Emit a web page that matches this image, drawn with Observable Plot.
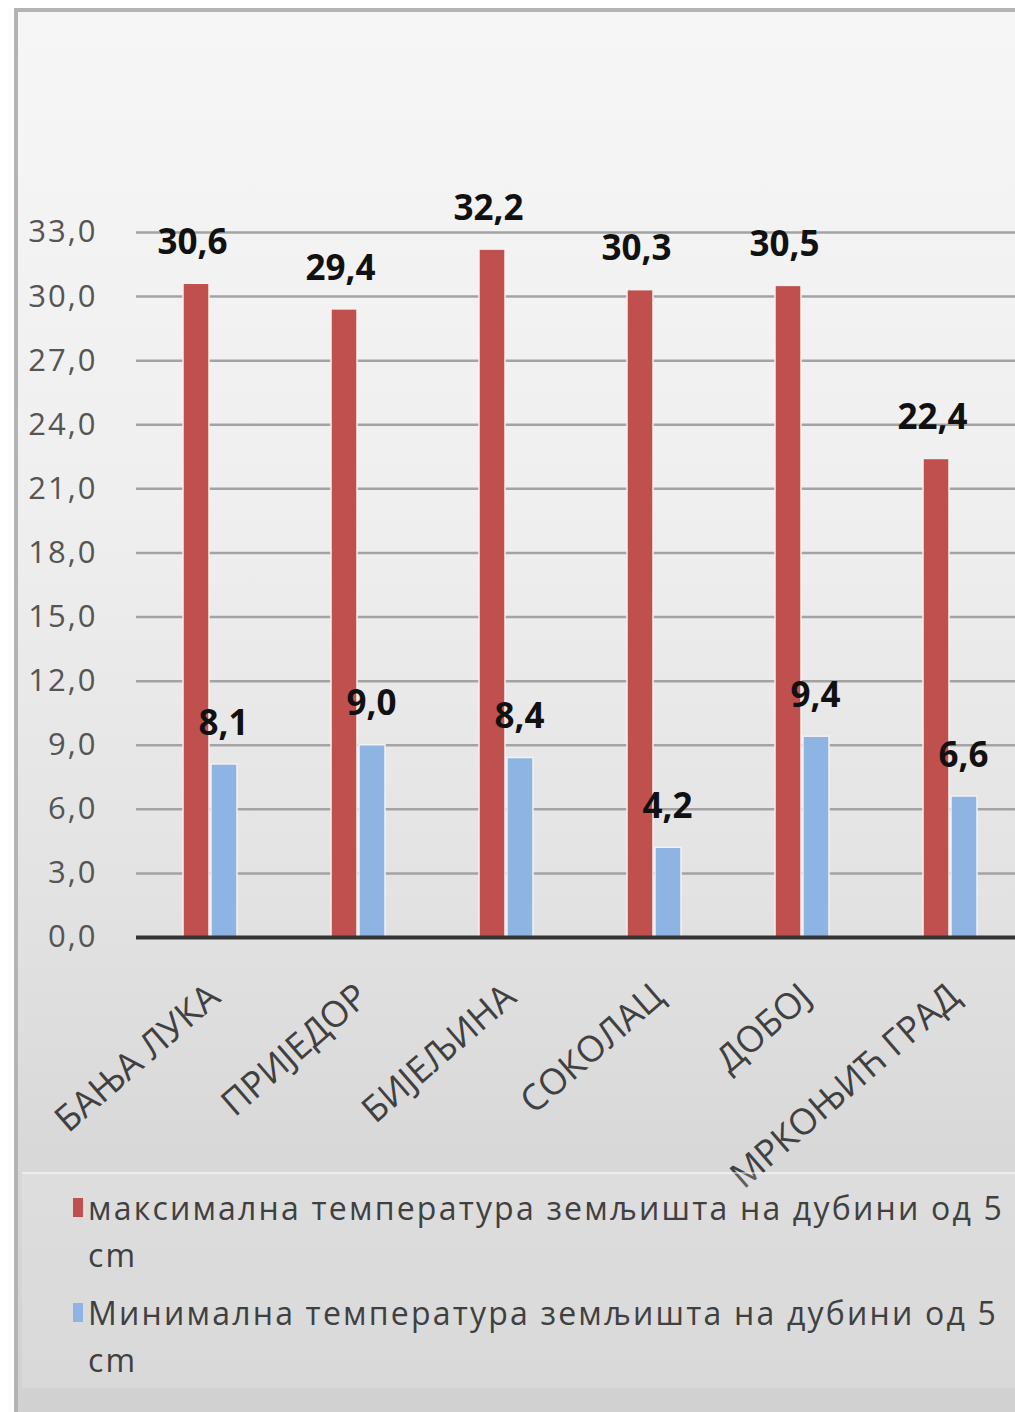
<!DOCTYPE html>
<html>
<head>
<meta charset="utf-8">
<script src="https://cdn.jsdelivr.net/npm/d3@7"></script>
<script src="https://cdn.jsdelivr.net/npm/@observablehq/plot@0.6"></script>
<style>
html, body { margin: 0; padding: 0; background: #ffffff; }
#wrap { position: relative; width: 1015px; height: 1412px; overflow: hidden; font-family: "Open Sans", sans-serif; }
#frame { position: absolute; left: 14px; top: 8px; right: 0; bottom: 0;
  border-top: 4px solid #b3b3b3; border-left: 4px solid #b3b3b3;
  background: linear-gradient(to bottom, #f6f6f6 0%, #efefef 35%, #e3e3e3 62%, #d8d8d8 82%, #d1d1d1 100%); }
#chart { position: absolute; left: 0; top: 0; }
#legend { position: absolute; left: 22px; top: 1172px; width: 993px; height: 216px;
  background: rgba(255,255,255,0.16); border-top: 2px solid rgba(255,255,255,0.45); box-sizing: border-box; }
.lrow { position: absolute; left: 0; width: 993px; }
.lsw { position: absolute; left: 51px; width: 10px; height: 19px; }
.ltx { position: absolute; left: 66px; font-size: 32px; line-height: 47px; color: #404040; white-space: pre; letter-spacing: 2.2px; }
#chart svg [aria-label="y-axis tick label"] text { letter-spacing: 2px; }
</style>
</head>
<body>
<div id="wrap">
  <div id="frame"></div>
  <div id="chart"></div>
  <div id="legend"></div>
</div>
<script>
const cities = ["БАЊА ЛУКА", "ПРИЈЕДОР", "БИЈЕЉИНА", "СОКОЛАЦ", "ДОБОЈ", "МРКОЊИЋ ГРАД"];
const maxTemp = [30.6, 29.4, 32.2, 30.3, 30.5, 22.4];
const minTemp = [8.1, 9.0, 8.4, 4.2, 9.4, 6.6];
const seriesNames = [
  "максимална температура земљишта на дубини од 5 cm",
  "Минимална температура земљишта на дубини од 5 cm"
];
const seriesColors = ["#c0504d", "#8db4e2"];
const yTicks = [0, 3, 6, 9, 12, 15, 18, 21, 24, 27, 30, 33];

const fmt = v => v.toFixed(1).replace(".", ",");

const data = cities.flatMap((c, i) => [
  {city: c, series: seriesNames[0], value: maxTemp[i]},
  {city: c, series: seriesNames[1], value: minTemp[i]}
]);
const maxData = data.filter(d => d.series === seriesNames[0]);
const minData = data.filter(d => d.series === seriesNames[1]);

const labelOpts = {fx: "city", x: "series", y: "value", text: d => fmt(d.value), dy: -41,
  fontSize: 35, fontWeight: "bold", fill: "#111111"};

const chart = Plot.plot({
  width: 1015,
  height: 1172,
  marginLeft: 136,
  marginRight: -9,
  marginTop: 232,
  marginBottom: 235,
  style: {background: "transparent", fontFamily: "'Open Sans', sans-serif", overflow: "visible"},
  fx: {domain: cities, padding: 0, axis: null, label: null},
  x: {domain: seriesNames, paddingInner: 0.07, paddingOuter: 1.59, axis: null},
  y: {domain: [0, 33], label: null},
  color: {domain: seriesNames, range: seriesColors},
  marks: [
    Plot.ruleY(yTicks.filter(t => t > 0), {stroke: "#a3a3a3", strokeWidth: 2.5}),
    Plot.axisY({ticks: yTicks, tickSize: 0, tickPadding: 39, tickFormat: fmt, fontSize: 31, fill: "#555555", label: null}),
    Plot.barY(data, {fx: "city", x: "series", y: "value", fill: "series", stroke: "#f2f2f2", strokeWidth: 1.5}),
    Plot.ruleY([0], {stroke: "#333333", strokeWidth: 4}),
    Plot.text(maxData, {...labelOpts, dx: -4}),
    Plot.text(minData, {...labelOpts, dx: -1}),
    Plot.text(cities, {fx: d => d, text: d => d, frameAnchor: "bottom", rotate: -41,
      textAnchor: "end", lineAnchor: "middle", dx: 4, dy: 54, fontSize: 36, fill: "#404040"})
  ]
});
document.getElementById("chart").appendChild(chart);

const legend = document.getElementById("legend");
const rowTops = [10, 115];
seriesNames.forEach((name, i) => {
  const row = document.createElement("div");
  row.className = "lrow";
  row.style.top = rowTops[i] + "px";
  const sw = document.createElement("div");
  sw.className = "lsw";
  sw.style.top = "14px";
  sw.style.background = seriesColors[i];
  const tx = document.createElement("div");
  tx.className = "ltx";
  const k = name.lastIndexOf(" ");
  tx.textContent = name.slice(0, k) + "\n" + name.slice(k + 1);
  row.appendChild(sw);
  row.appendChild(tx);
  legend.appendChild(row);
});
</script>
</body>
</html>
